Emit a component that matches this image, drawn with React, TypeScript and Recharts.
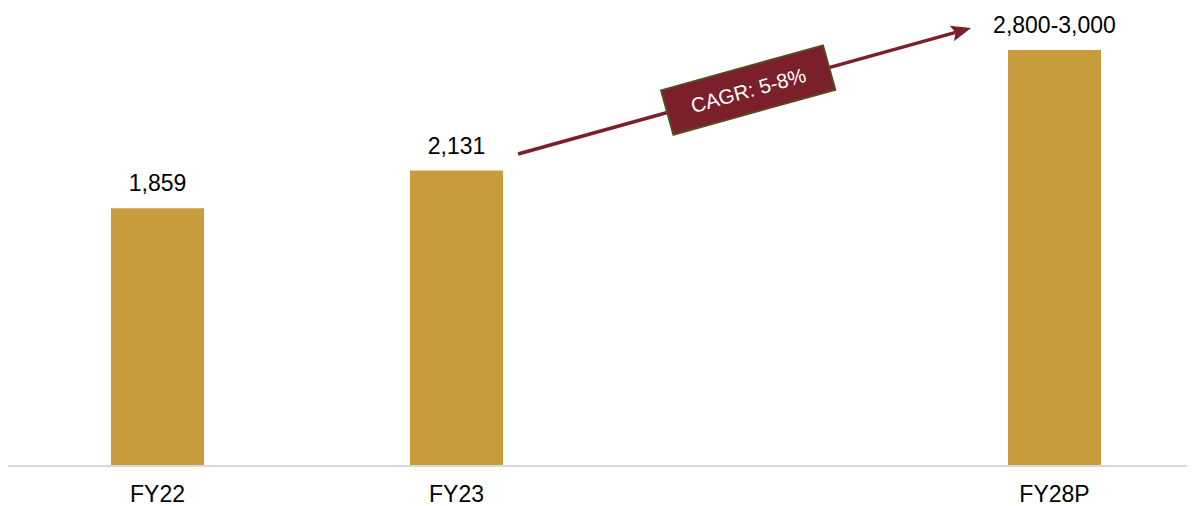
import React from 'react';
import { BarChart, Bar, XAxis, YAxis, LabelList, ReferenceLine } from 'recharts';

const categories = ['FY22', 'FY23', '', 'FY28P'];
const values: (number | null)[] = [1859, 2131, null, 3000];
const valueLabels = ['1,859', '2,131', '', '2,800-3,000'];
const tickSlots = [0, 1, 3];
const cagrText = 'CAGR: 5-8%';
const arrowStart = { x: 1.206, y: 2250 };
const arrowEnd = { x: 2.721, y: 3158 };

const data = categories.map((c, i) => ({ x: i, name: c, value: values[i], label: valueLabels[i] }));

const FONT = '"Liberation Sans", Arial, sans-serif';
const BAR = '#C89B3C';
const MAROON = '#7B1F2B';

const ArrowShape = (p: any) => {
  const { x1, y1, x2, y2 } = p;
  if ([x1, y1, x2, y2].some((v) => typeof v !== 'number' || isNaN(v))) return null;
  const dx = x2 - x1;
  const dy = y2 - y1;
  const len = Math.sqrt(dx * dx + dy * dy);
  const ux = dx / len;
  const uy = dy / len;
  const nx = -uy;
  const ny = ux;
  const headL = 20;
  const headW = 8;
  const bx = x2 - ux * headL;
  const by = y2 - uy * headL;
  const notchX = x2 - ux * (headL - 4);
  const notchY = y2 - uy * (headL - 4);
  const angle = (Math.atan2(dy, dx) * 180) / Math.PI;
  const t = 0.508;
  const cx = x1 + dx * t;
  const cy = y1 + dy * t;
  return (
    <g>
      <line x1={x1} y1={y1} x2={notchX} y2={notchY} stroke={MAROON} strokeWidth={3.5} />
      <polygon
        points={`${x2},${y2} ${bx + nx * headW},${by + ny * headW} ${notchX},${notchY} ${bx - nx * headW},${by - ny * headW}`}
        fill={MAROON}
      />
      <g transform={`translate(${cx},${cy}) rotate(${angle})`}>
        <rect x={-84} y={-23} width={168} height={46} fill={MAROON} stroke="#5A4A22" strokeWidth={2} />
        <text x={0} y={7.5} textAnchor="middle" fill="#fff" fontSize={20.5} fontFamily={FONT}>
          {cagrText}
        </text>
      </g>
    </g>
  );
};

const Tick = (p: any) => {
  const { x, y, payload } = p;
  return (
    <text x={x} y={y + 36} textAnchor="middle" fill="#000" fontSize={23} fontFamily={FONT}>
      {categories[payload.value]}
    </text>
  );
};

export default function App() {
  return (
    <div style={{ width: 1187, height: 498, overflow: 'hidden' }}>
      <BarChart
        width={1196}
        height={498}
        data={data}
        margin={{ top: 42, right: 0, bottom: 0, left: 0 }}
        style={{ fontFamily: FONT }}
      >
        <XAxis
          dataKey="x"
          type="number"
          domain={[-0.5, 3.5]}
          ticks={tickSlots}
          allowDataOverflow
          interval={0}
          tickLine={false}
          tickSize={0}
          tickMargin={0}
          height={40}
          axisLine={{ stroke: '#D9D9D9', strokeWidth: 2 }}
          tick={<Tick />}
        />
        <YAxis hide domain={[0, 3000]} allowDataOverflow />
        <Bar dataKey="value" fill={BAR} barSize={93} isAnimationActive={false}>
          <LabelList dataKey="label" position="top" offset={17} fill="#000" fontSize={23} fontFamily={FONT} />
        </Bar>
        <ReferenceLine
          segment={[arrowStart, arrowEnd]}
          ifOverflow="visible"
          stroke={MAROON}
          shape={<ArrowShape />}
        />
      </BarChart>
    </div>
  );
}
